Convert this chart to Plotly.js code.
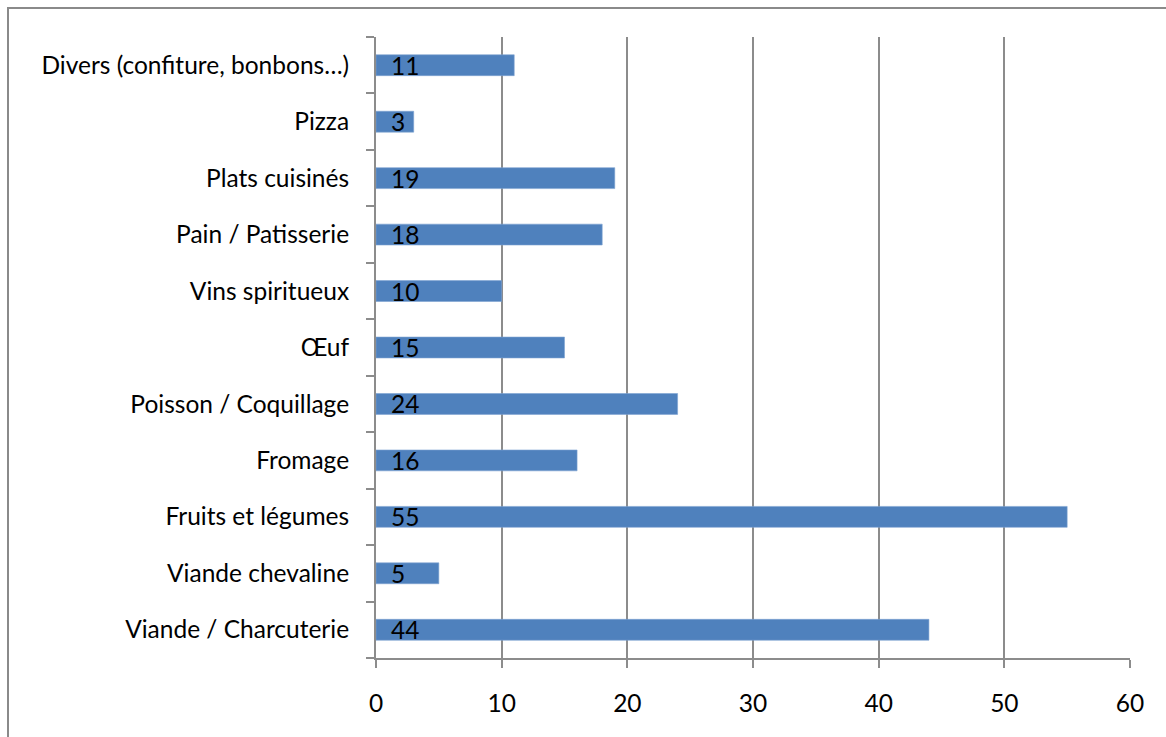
<!DOCTYPE html>
<html>
<head>
<meta charset="utf-8">
<script src="https://cdn.plot.ly/plotly-3.0.1.min.js"></script>
<style>
  html, body { margin: 0; padding: 0; background: #ffffff; }
  #chart { width: 1166px; height: 737px; }
</style>
</head>
<body>
<div id="chart"></div>
<script>
// Food categories, listed from the bottom of the chart to the top
const categories = [
  "Viande / Charcuterie",
  "Viande chevaline",
  "Fruits et légumes",
  "Fromage",
  "Poisson / Coquillage",
  "Œuf",
  "Vins spiritueux",
  "Pain / Patisserie",
  "Plats cuisinés",
  "Pizza",
  "Divers (confiture, bonbons…)"
];
const counts = [44, 5, 55, 16, 24, 15, 10, 18, 19, 3, 11];
const xTicks = [0, 10, 20, 30, 40, 50, 60];

const W = 1166, H = 737;
const margin = { l: 376, r: 36, t: 37, b: 79 };
const plotW = W - margin.l - margin.r;
const plotH = H - margin.t - margin.b;
const font = "Lato, 'Noto Sans', sans-serif";
const fsize = 24.5;

const trace = {
  type: "bar",
  orientation: "h",
  y: categories,
  x: counts,
  marker: { color: "#4f81bd", line: { color: "#7ea3d1", width: 0.6 } },
  hoverinfo: "x+y"
};

// value labels sit at the start of each bar
const labels = categories.map((c, i) => ({
  x: 0, y: c, xref: "x", yref: "y",
  text: String(counts[i]),
  showarrow: false,
  xanchor: "left", yanchor: "middle",
  xshift: 13, yshift: 0,
  font: { family: font, size: fsize, color: "#000000" }
}));

// outer frame of the chart area (right/bottom edges run past the page)
const px = v => (v - margin.l) / plotW;
const py = v => 1 - (v - margin.t) / plotH;
const frame = {
  type: "rect", xref: "paper", yref: "paper",
  x0: px(8), x1: px(W + 20), y0: py(H + 20), y1: py(8),
  line: { color: "#8a8a8a", width: 2 },
  fillcolor: "rgba(0,0,0,0)",
  layer: "below"
};

const layout = {
  width: W, height: H,
  margin: margin,
  paper_bgcolor: "#ffffff",
  plot_bgcolor: "#ffffff",
  showlegend: false,
  bargap: 0.63,
  font: { family: font, size: fsize, color: "#000000" },
  xaxis: {
    range: [0, 60],
    tickvals: xTicks,
    ticktext: xTicks.map(String),
    showgrid: true,
    gridcolor: "#8c8c8c",
    gridwidth: 2,
    zeroline: false,
    showline: true,
    linecolor: "#8c8c8c",
    linewidth: 2,
    ticks: "outside",
    ticklen: 8,
    tickwidth: 2,
    tickcolor: "#8c8c8c",
    ticklabelstandoff: 15,
    tickfont: { family: font, size: fsize, color: "#000000" },
    fixedrange: true
  },
  yaxis: {
    type: "category",
    categoryorder: "array",
    categoryarray: categories,
    tickson: "boundaries",
    showgrid: false,
    zeroline: false,
    showline: true,
    linecolor: "#8c8c8c",
    linewidth: 2,
    ticks: "outside",
    ticklen: 8,
    tickwidth: 2,
    tickcolor: "#8c8c8c",
    ticklabelstandoff: 20,
    tickfont: { family: font, size: fsize, color: "#000000" },
    fixedrange: true
  },
  annotations: labels,
  shapes: [frame]
};

Plotly.newPlot("chart", [trace], layout, { displayModeBar: false, staticPlot: true });
</script>
</body>
</html>
